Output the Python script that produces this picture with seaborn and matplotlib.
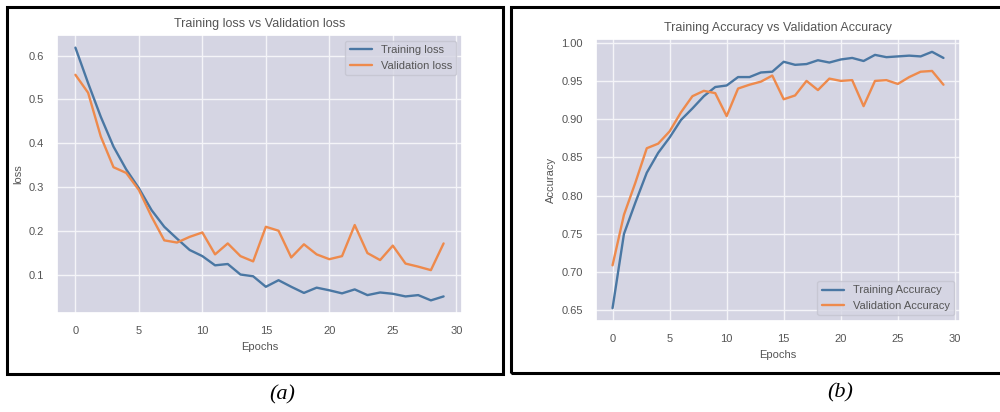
import numpy as np
import pandas as pd
import seaborn as sns
import matplotlib.pyplot as plt
from matplotlib.patches import Rectangle

epochs = list(range(30))

train_loss = [0.618, 0.537, 0.460, 0.392, 0.340, 0.297, 0.247, 0.209, 0.182, 0.156,
              0.142, 0.121, 0.124, 0.100, 0.096, 0.072, 0.087, 0.072, 0.058, 0.070,
              0.064, 0.057, 0.066, 0.053, 0.059, 0.056, 0.050, 0.053, 0.041, 0.050]
val_loss = [0.556, 0.515, 0.415, 0.345, 0.332, 0.293, 0.232, 0.178, 0.173, 0.186,
            0.196, 0.146, 0.171, 0.142, 0.130, 0.209, 0.200, 0.139, 0.169, 0.146,
            0.135, 0.142, 0.213, 0.149, 0.133, 0.166, 0.125, 0.118, 0.110, 0.171]

train_acc = [0.653, 0.750, 0.791, 0.830, 0.856, 0.876, 0.899, 0.914, 0.930, 0.942,
             0.944, 0.955, 0.955, 0.961, 0.962, 0.975, 0.971, 0.972, 0.977, 0.974,
             0.978, 0.980, 0.976, 0.984, 0.981, 0.982, 0.983, 0.982, 0.988, 0.980]
val_acc = [0.709, 0.775, 0.817, 0.862, 0.868, 0.884, 0.909, 0.930, 0.937, 0.934,
           0.904, 0.940, 0.945, 0.949, 0.957, 0.926, 0.931, 0.950, 0.938, 0.953,
           0.950, 0.951, 0.917, 0.950, 0.951, 0.946, 0.955, 0.962, 0.963, 0.945]

BLUE = "#4a77a3"
ORANGE = "#ee8a4c"
TEXT = "#555555"

sns.set_theme(style="darkgrid")
plt.rcParams.update({
    "font.family": ["Liberation Sans", "DejaVu Sans"],
    "axes.facecolor": "#d5d5e3",
    "grid.color": "#f4f4f8",
    "grid.linewidth": 1.0,
    "text.color": TEXT,
    "axes.labelcolor": TEXT,
    "xtick.color": TEXT,
    "ytick.color": TEXT,
})

W, H = 1000, 412
fig = plt.figure(figsize=(W / 100, H / 100), dpi=100)


def px_axes(x0, y0, x1, y1):
    return fig.add_axes([x0 / W, 1 - y1 / H, (x1 - x0) / W, (y1 - y0) / H])


def panel_box(x0, y0, x1, y1):
    fig.add_artist(Rectangle((x0 / W, 1 - y1 / H), (x1 - x0) / W, (y1 - y0) / H,
                             transform=fig.transFigure, fill=False,
                             edgecolor="black", linewidth=2.2, zorder=10))


panel_box(7, 7, 503, 374)
panel_box(511, 7, 1003, 373)

loss_df = pd.DataFrame({"Epochs": epochs, "Training loss": train_loss,
                        "Validation loss": val_loss})
acc_df = pd.DataFrame({"Epochs": epochs, "Training Accuracy": train_acc,
                       "Validation Accuracy": val_acc})

# Loss panel
ax1 = px_axes(57, 35, 462, 313)
sns.lineplot(data=loss_df, x="Epochs", y="Training loss", ax=ax1, color=BLUE,
             linewidth=1.7, label="Training loss")
sns.lineplot(data=loss_df, x="Epochs", y="Validation loss", ax=ax1, color=ORANGE,
             linewidth=1.7, label="Validation loss")
ax1.set_title("Training loss vs Validation loss", fontsize=9, color=TEXT, pad=6)
ax1.set_xlabel("Epochs", fontsize=8)
ax1.set_ylabel("loss", fontsize=8)
ax1.set_xticks([0, 5, 10, 15, 20, 25, 30])
ax1.set_yticks([0.1, 0.2, 0.3, 0.4, 0.5, 0.6])
ax1.tick_params(labelsize=8)
ax1.legend(loc="upper right", fontsize=8, frameon=True)

# Accuracy panel
ax2 = px_axes(596, 39, 960, 321)
sns.lineplot(data=acc_df, x="Epochs", y="Training Accuracy", ax=ax2, color=BLUE,
             linewidth=1.7, label="Training Accuracy")
sns.lineplot(data=acc_df, x="Epochs", y="Validation Accuracy", ax=ax2, color=ORANGE,
             linewidth=1.7, label="Validation Accuracy")
ax2.set_title("Training Accuracy vs Validation Accuracy", fontsize=9, color=TEXT, pad=6)
ax2.set_xlabel("Epochs", fontsize=8)
ax2.set_ylabel("Accuracy", fontsize=8)
ax2.set_xticks([0, 5, 10, 15, 20, 25, 30])
ax2.set_yticks([0.65, 0.70, 0.75, 0.80, 0.85, 0.90, 0.95, 1.00])
ax2.set_yticklabels([f"{v:.2f}" for v in ax2.get_yticks()])
ax2.tick_params(labelsize=8)
ax2.legend(loc="lower right", fontsize=8, frameon=True)

for ax in (ax1, ax2):
    ax.legend_.get_frame().set_facecolor("#d5d5e3")
    ax.legend_.get_frame().set_edgecolor("#c4c4d0")
    for t in ax.legend_.get_texts():
        t.set_color(TEXT)

fig.text(282 / W, 1 - 395 / H, "(a)", ha="center", va="center", fontsize=16,
         style="italic", family=["Liberation Serif", "DejaVu Serif"], color="black")
fig.text(840 / W, 1 - 393 / H, "(b)", ha="center", va="center", fontsize=16,
         style="italic", family=["Liberation Serif", "DejaVu Serif"], color="black")

fig.savefig("out.png", dpi=100, facecolor="white")
